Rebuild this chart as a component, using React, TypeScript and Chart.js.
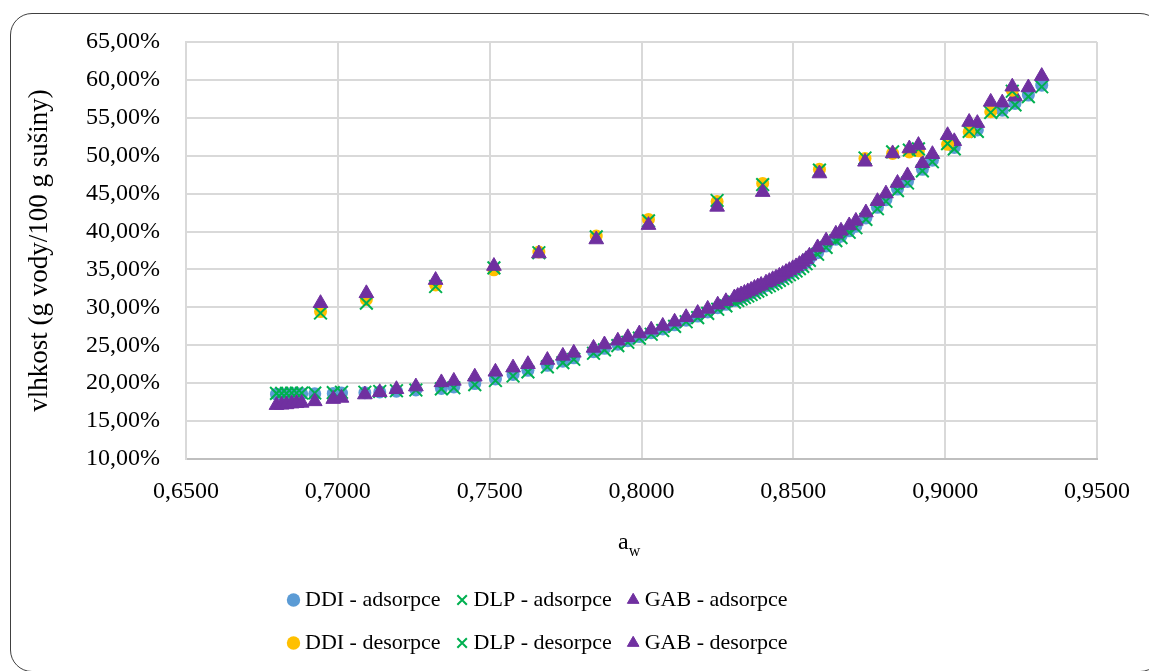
import React, { useEffect, useRef } from 'react';
import { Chart, registerables } from 'chart.js';

Chart.register(...registerables);

// ---- data ----
const awAds = [
  0.6798, 0.6815, 0.6831, 0.6848, 0.6864, 0.6881, 0.6924, 0.6985, 0.7012,
  0.7089, 0.7138, 0.7193, 0.7257, 0.7341, 0.7382, 0.7451, 0.7519, 0.7577, 0.7626,
  0.7690, 0.7741, 0.7777, 0.7842, 0.7878, 0.7922, 0.7955,
  0.7993, 0.8032, 0.8070, 0.8109, 0.8147, 0.8185, 0.8218, 0.8251, 0.8278, 0.8306,
  0.8317, 0.8328, 0.8339, 0.8350, 0.8361, 0.8372, 0.8383, 0.8394, 0.8410, 0.8421,
  0.8432, 0.8443, 0.8454, 0.8465, 0.8476, 0.8487, 0.8498, 0.8509, 0.8520, 0.8531,
  0.8542, 0.8553,
  0.8580, 0.8608, 0.8640, 0.8657, 0.8684, 0.8706, 0.8739, 0.8777, 0.8805, 0.8843,
  0.8876, 0.8925, 0.8958, 0.9030, 0.9106, 0.9188, 0.9230, 0.9274, 0.9318,
];

const ddiAds = [
  18.55, 18.55, 18.55, 18.6, 18.6, 18.6, 18.6, 18.65, 18.7,
  18.75, 18.85, 18.95, 19.1, 19.3, 19.5, 19.95, 20.55, 21.15, 21.7,
  22.35, 22.9, 23.35, 24.15, 24.6, 25.15, 25.6,
  26.15, 26.65, 27.15, 27.7, 28.3, 28.85, 29.4, 29.95, 30.4, 30.9,
  31.1, 31.3, 31.5, 31.7, 31.9, 32.15, 32.35, 32.55, 32.85, 33.05,
  33.3, 33.5, 33.75, 34.0, 34.25, 34.5, 34.75, 35.0, 35.3, 35.6,
  35.95, 36.4,
  37.2, 38.1, 39.0, 39.4, 40.1, 40.7, 41.8, 43.2, 44.2, 45.6,
  46.6, 48.2, 49.4, 51.1, 53.4, 56.0, 56.9, 58.0, 59.3,
];

const dlpAds = [
  18.65, 18.65, 18.65, 18.7, 18.7, 18.7, 18.7, 18.75, 18.8,
  18.8, 18.9, 19.0, 19.1, 19.25, 19.4, 19.8, 20.35, 20.95, 21.5,
  22.15, 22.7, 23.15, 23.95, 24.4, 24.95, 25.4,
  25.95, 26.45, 26.95, 27.5, 28.1, 28.65, 29.2, 29.75, 30.2, 30.7,
  30.9, 31.1, 31.3, 31.5, 31.7, 31.95, 32.15, 32.35, 32.65, 32.85,
  33.1, 33.3, 33.55, 33.8, 34.05, 34.3, 34.55, 34.8, 35.1, 35.4,
  35.75, 36.2,
  37.0, 37.9, 38.8, 39.2, 39.9, 40.5, 41.6, 43.0, 44.0, 45.4,
  46.4, 48.0, 49.2, 50.9, 53.2, 55.8, 56.7, 57.8, 59.1,
];

const gabAds = [
  17.1, 17.15, 17.2, 17.3, 17.35, 17.4, 17.6, 17.9, 18.05,
  18.5, 18.8, 19.2, 19.55, 20.1, 20.3, 20.85, 21.5, 22.05, 22.5,
  23.05, 23.6, 24.0, 24.65, 25.1, 25.6, 26.05,
  26.55, 27.05, 27.55, 28.1, 28.7, 29.25, 29.8, 30.35, 30.8, 31.3,
  31.5, 31.7, 31.9, 32.1, 32.3, 32.55, 32.75, 32.95, 33.25, 33.45,
  33.7, 33.9, 34.15, 34.4, 34.65, 34.9, 35.15, 35.4, 35.7, 36.0,
  36.35, 36.8,
  37.9, 38.8, 39.7, 40.1, 40.8, 41.4, 42.5, 44.0, 45.0, 46.4,
  47.4, 49.0, 50.2, 51.9, 54.3, 57.0, 57.8, 59.0, 60.5,
];

const awDes = [
  0.6943, 0.7094, 0.7322, 0.7514, 0.7662, 0.7851, 0.8023, 0.8249, 0.8399,
  0.8586, 0.8736, 0.8827, 0.8882, 0.8912, 0.9008, 0.9079, 0.9150, 0.9221,
];
const ddiDes = [
  29.45, 31.05, 32.95, 34.95, 37.3, 39.4, 41.6, 43.95, 46.35,
  48.2, 49.65, 50.3, 50.5, 50.65, 51.5, 53.15, 55.8, 58.65,
];
const dlpDes = [
  29.25, 30.55, 32.75, 35.2, 37.2, 39.3, 41.4, 44.1, 46.2,
  48.1, 49.7, 50.5, 50.75, 50.9, 51.6, 53.2, 55.7, 58.5,
];
const gabDes = [
  30.55, 31.85, 33.6, 35.45, 37.1, 38.95, 40.85, 43.25, 45.2,
  47.65, 49.2, 50.3, 50.95, 51.4, 52.7, 54.45, 57.1, 59.1,
];

const seriesLabels = [
  'DDI - adsorpce', 'DLP - adsorpce', 'GAB - adsorpce',
  'DDI - desorpce', 'DLP - desorpce', 'GAB - desorpce',
];

const yTitle = 'vlhkost (g vody/100 g sušiny)';

const FONT = '"Liberation Serif", "Times New Roman", serif';
const W = 1149;
const H = 671;

const fmtPct = (v: number) => v.toFixed(2).replace('.', ',') + '%';
const fmtAw = (v: number) => v.toFixed(4).replace('.', ',');

const pts = (xs: number[], ys: number[]) => xs.map((x, i) => ({ x, y: ys[i] }));

const legendPlacer = {
  id: 'legendPlacer',
  afterLayout(chart: any) {
    const lg = chart.legend;
    if (!lg) return;
    lg.left = 272;
    lg.right = 900;
    lg.width = lg.right - lg.left;
    lg.top = 568;
    lg.bottom = H;
    lg.height = lg.bottom - lg.top;
  },
};

const awTitle = {
  id: 'awTitle',
  afterDraw(chart: any) {
    const ctx = chart.ctx as CanvasRenderingContext2D;
    ctx.save();
    ctx.fillStyle = '#000';
    ctx.textAlign = 'left';
    ctx.textBaseline = 'alphabetic';
    ctx.font = `24px ${FONT}`;
    const x0 = 618;
    ctx.fillText('a', x0, 549);
    const wA = ctx.measureText('a').width;
    ctx.font = `16px ${FONT}`;
    ctx.fillText('w', x0 + wA, 556);
    ctx.restore();
  },
};

export default function App() {
  const ref = useRef<HTMLCanvasElement>(null);

  useEffect(() => {
    if (!ref.current) return;
    Chart.defaults.font.family = FONT;
    const chart = new Chart(ref.current, {
      type: 'scatter',
      data: {
        datasets: [
          {
            label: seriesLabels[0], data: pts(awAds, ddiAds), pointStyle: 'circle', pointRadius: 6.5,
            backgroundColor: '#5B9BD5', borderColor: '#5B9BD5', borderWidth: 0, order: 6,
          },
          {
            label: seriesLabels[1], data: pts(awAds, dlpAds), pointStyle: 'crossRot', pointRadius: 9,
            backgroundColor: '#00B050', borderColor: '#00B050', borderWidth: 2, order: 5,
          },
          {
            label: seriesLabels[2], data: pts(awAds, gabAds), pointStyle: 'triangle', pointRadius: 8.5,
            backgroundColor: '#7030A0', borderColor: '#7030A0', borderWidth: 1, order: 4,
          },
          {
            label: seriesLabels[3], data: pts(awDes, ddiDes), pointStyle: 'circle', pointRadius: 6.5,
            backgroundColor: '#FFC000', borderColor: '#FFC000', borderWidth: 0, order: 3,
          },
          {
            label: seriesLabels[4], data: pts(awDes, dlpDes), pointStyle: 'crossRot', pointRadius: 9,
            backgroundColor: '#00B050', borderColor: '#00B050', borderWidth: 2, order: 2,
          },
          {
            label: seriesLabels[5], data: pts(awDes, gabDes), pointStyle: 'triangle', pointRadius: 8.5,
            backgroundColor: '#7030A0', borderColor: '#7030A0', borderWidth: 1, order: 1,
          },
        ],
      },
      options: {
        responsive: false,
        animation: false,
        events: [],
        layout: { padding: { left: 22, right: 52, top: 42, bottom: 14 } },
        scales: {
          x: {
            type: 'linear',
            min: 0.65,
            max: 0.95,
            ticks: {
              stepSize: 0.05,
              callback: (v: any) => fmtAw(Number(v)),
              font: { family: FONT, size: 24 },
              color: '#000',
              padding: 18,
            },
            grid: { color: '#D9D9D9', lineWidth: 2, drawTicks: false },
            border: { color: '#BFBFBF', width: 2 },
            afterFit: (s: any) => {
              const lgH = s.chart.legend ? s.chart.legend.height : 0;
              s.height = H - 14 - lgH - 459;
            },
          },
          y: {
            type: 'linear',
            min: 10,
            max: 65,
            ticks: {
              stepSize: 5,
              callback: (v: any) => fmtPct(Number(v)),
              font: { family: FONT, size: 24 },
              color: '#000',
              padding: 26,
            },
            grid: { color: '#D9D9D9', lineWidth: 2, drawTicks: false },
            border: { color: '#D9D9D9', width: 2 },
            title: {
              display: true,
              text: yTitle,
              font: { family: FONT, size: 27 },
              color: '#000',
              padding: { top: 2, bottom: 2 },
            },
            afterFit: (s: any) => {
              s.width = 186 - 22;
            },
          },
        },
        plugins: {
          legend: {
            display: true,
            position: 'bottom',
            align: 'start',
            labels: {
              usePointStyle: true,
              boxWidth: 1,
              boxHeight: 9.5,
              padding: 21,
              color: '#000',
              font: { family: FONT, size: 22 },
              sort: (a: any, b: any) => a.datasetIndex - b.datasetIndex,
            },
          },
          tooltip: { enabled: false },
        },
      } as any,
      plugins: [legendPlacer, awTitle],
    });
    return () => chart.destroy();
  }, []);

  return (
    <div style={{ position: 'absolute', left: 0, top: 0, width: W, height: H, overflow: 'hidden', background: '#fff' }}>
      <div
        style={{
          position: 'absolute', left: 10, top: 13, width: 1152, height: 659,
          border: '1.5px solid #404040', borderRadius: 22, boxSizing: 'border-box',
        }}
      />
      <canvas ref={ref} width={W} height={H} style={{ position: 'absolute', left: 0, top: 0 }} />
    </div>
  );
}
